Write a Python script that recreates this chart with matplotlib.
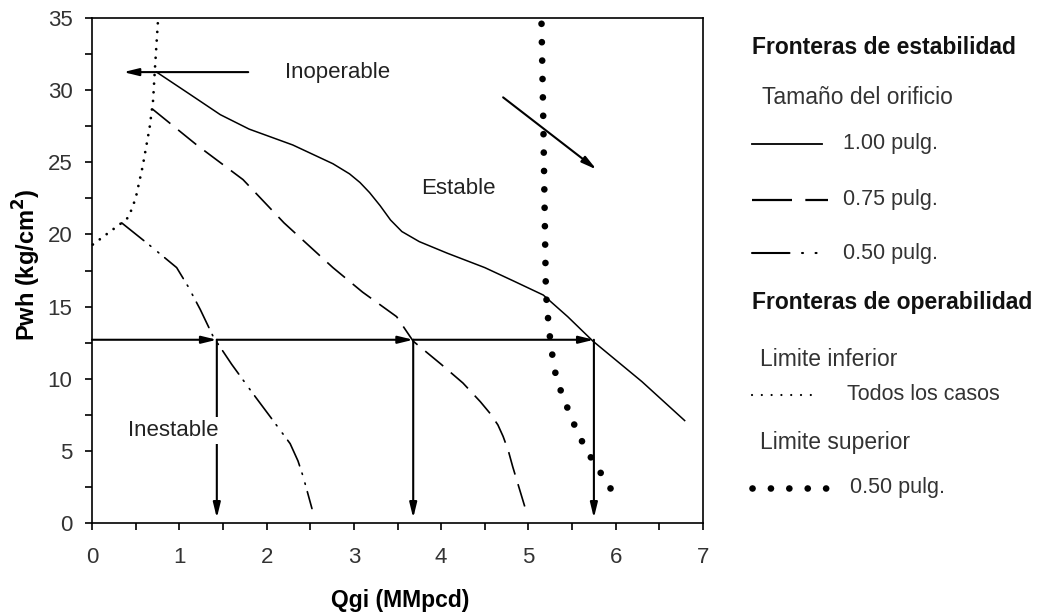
import matplotlib.pyplot as plt
from matplotlib.lines import Line2D

plt.rcParams['font.family'] = ['Liberation Sans', 'DejaVu Sans']

# fronteras de estabilidad (Qgi, Pwh)
q_100 = [0.74, 1.1, 1.47, 1.8, 2.3, 2.76, 2.95, 3.07, 3.18, 3.30, 3.42, 3.55, 3.75, 4.07, 4.5, 4.82, 5.17, 5.45, 5.74, 6.3, 6.79]
p_100 = [31.25, 29.8, 28.3, 27.3, 26.2, 24.9, 24.2, 23.6, 22.9, 22.0, 21.0, 20.2, 19.5, 18.7, 17.7, 16.8, 15.8, 14.3, 12.6, 9.8, 7.1]
q_075 = [0.69, 1.2, 1.73, 2.2, 2.76, 3.1, 3.49, 3.68, 4.0, 4.25, 4.45, 4.56, 4.65, 4.71, 4.77, 4.82, 4.90, 4.98]
p_075 = [28.7, 26.2, 23.8, 20.8, 17.7, 16.0, 14.3, 12.6, 11.0, 9.7, 8.4, 7.6, 6.8, 6.0, 5.0, 3.9, 2.3, 0.7]
q_050 = [0.34, 0.65, 0.97, 1.1, 1.24, 1.39, 1.6, 1.84, 2.05, 2.27, 2.36, 2.42, 2.52]
p_050 = [20.8, 19.3, 17.7, 16.4, 14.8, 12.9, 11.0, 9.0, 7.3, 5.5, 4.3, 3.2, 1.0]

# fronteras de operabilidad
q_inf = [0.01, 0.34, 0.42, 0.50, 0.58, 0.66, 0.70, 0.72, 0.76]
p_inf = [19.3, 20.8, 21.2, 22.5, 24.7, 27.4, 29.3, 31.4, 35.2]
q_sup = [5.15, 5.17, 5.19, 5.20, 5.22, 5.24, 5.27, 5.30, 5.35, 5.42, 5.49, 5.57, 5.66, 5.77, 5.88, 6.01]
p_sup = [34.6, 28.0, 20.0, 16.0, 14.5, 13.2, 11.8, 10.6, 9.5, 8.4, 7.3, 6.2, 5.1, 4.0, 3.0, 1.7]

# punto de operacion
p_oper = 12.7
q_cortes = [1.43, 3.68, 5.75]

W, H = 1054, 616
fig = plt.figure(figsize=(W / 100, H / 100), dpi=100)
ax = fig.add_axes([92 / W, 1 - 523 / H, (703 - 92) / W, (523 - 18) / H])

def fx(px, py):
    return px / W, 1 - py / H

dashed = (0, (14, 6))
dashdotdot = (0, (17, 4.6, 0.8, 5.4, 0.8, 4.6))
smalldots = (0, (0.01, 3.1))
bigdots = (0, (0.01, 2.75))

ax.plot(q_100, p_100, color='black', lw=1.1)
ax.plot(q_075, p_075, color='black', lw=1.2, linestyle=dashed)
ax.plot(q_050, p_050, color='black', lw=1.2, linestyle=dashdotdot, dash_capstyle='round')
ax.plot(q_inf, p_inf, color='black', lw=2.0, linestyle=smalldots, dash_capstyle='round', clip_on=False)
ax.plot(q_sup, p_sup, color='black', lw=4.8, linestyle=bigdots, dash_capstyle='round')

arrow = dict(arrowstyle='-|>,head_length=0.9,head_width=0.22', lw=1.5, color='black',
             shrinkA=0, shrinkB=0)
prev = 0
for q in q_cortes:
    ax.annotate('', xy=(q, p_oper), xytext=(prev, p_oper), arrowprops=arrow)
    ax.annotate('', xy=(q, 0.35), xytext=(q, p_oper), arrowprops=arrow)
    prev = q

ax.annotate('', xy=(0.36, 31.25), xytext=(1.79, 31.25), arrowprops=arrow)
ax.annotate('', xy=(5.78, 24.5), xytext=(4.71, 29.5), arrowprops=arrow)

txt = dict(fontsize=16, color='#222222', ha='center', va='center')
ax.text(2.81, 31.25, 'Inoperable', **txt)
ax.text(4.2, 23.2, 'Estable', **txt)
ax.text(0.93, 6.4, 'Inestable', bbox=dict(facecolor='white', edgecolor='none', pad=2), **txt)

ax.set_xlim(0, 7)
ax.set_ylim(0, 35)
ax.set_xticks(range(0, 8))
ax.set_xticks([i + 0.5 for i in range(7)], minor=True)
ax.set_yticks(range(0, 36, 5))
ax.set_yticks([i + 2.5 for i in range(0, 35, 5)], minor=True)
ax.tick_params(which='both', direction='out', length=5, width=1.2, colors='black',
               labelcolor='#333333', labelsize=16)
ax.tick_params(axis='x', pad=12)
ax.tick_params(axis='y', pad=9)
for s in ax.spines.values():
    s.set_linewidth(1.2)

fig.text(400 / W, 1 - 601 / H, 'Qgi (MMpcd)', fontsize=16.5, fontweight='bold',
         ha='center', va='center')
fig.text(27 / W, 1 - 265 / H, 'Pwh (kg/cm$\\mathbf{^2}$)', fontsize=17, fontweight='bold',
         ha='center', va='center', rotation=90)

# leyenda manual
head = dict(fontsize=16.5, fontweight='bold', color='#111111', va='center', ha='left')
sub = dict(fontsize=16.5, color='#333333', va='center', ha='left')
item = dict(fontsize=15.5, color='#333333', va='center', ha='left')

fig.text(*fx(752, 47), 'Fronteras de estabilidad', **head)
fig.text(*fx(762, 98), 'Tamaño del orificio', **sub)
fig.text(*fx(752, 303), 'Fronteras de operabilidad', **head)
fig.text(*fx(760, 360), 'Limite inferior', **sub)
fig.text(*fx(760, 443), 'Limite superior', **sub)

samples = [
    (144, 'solid', 1.3, 'butt', 822, 843, '1.00 pulg.'),
    (200, (0, (18, 6)), 1.6, 'butt', 828, 843, '0.75 pulg.'),
    (253, (0, (18, 6, 0.5, 6, 0.5, 6)), 1.5, 'round', 822, 843, '0.50 pulg.'),
    (395, (0, (0.01, 4.4)), 1.6, 'round', 820, 847, 'Todos los casos'),
    (488, bigdots, 4.8, 'round', 830, 850, '0.50 pulg.'),
]
for py, ls, lw, cap, x1, xt, label in samples:
    x0, y0 = fx(752, py)
    x1f, _ = fx(x1, py)
    fig.add_artist(Line2D([x0, x1f], [y0, y0], transform=fig.transFigure, color='black',
                          lw=lw, linestyle=ls, dash_capstyle=cap))
    fig.text(*fx(xt, py), label, **item)

fig.savefig('out.png', dpi=100)
